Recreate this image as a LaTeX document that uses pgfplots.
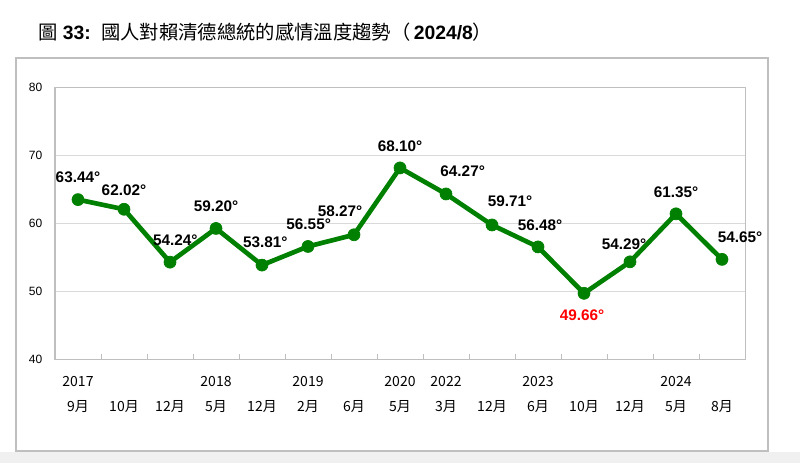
\documentclass[border=0pt]{standalone}
\usepackage{fontspec}
\setmainfont{Liberation Sans}
\newfontfamily\cjk{Noto Sans CJK TC}
\usepackage{pgfplots}
\pgfplotsset{compat=1.18}
\definecolor{lgreen}{RGB}{0,128,0}
\definecolor{lred}{RGB}{255,0,0}
\definecolor{gridc}{RGB}{217,217,217}
\definecolor{boxc}{RGB}{191,191,191}
\definecolor{pagebg}{RGB}{240,240,240}

% value label: x index, value, xshift, yshift, colour
\newcommand\lab[5]{\node[font=\bfseries\fontsize{11.5}{13}\selectfont, text=#5, inner sep=0pt]
  at (axis cs:#1,#2) [xshift=#3pt, yshift=#4pt] {#2°};}

\begin{document}
\begin{tikzpicture}
\useasboundingbox (0,0) rectangle (600pt,-347.25pt);
\fill[white] (0,0) rectangle (600pt,-347.25pt);
\fill[pagebg] (0,-339pt) rectangle (600pt,-347.25pt);
\draw[boxc, line width=0.9pt] (12pt,-43.5pt) rectangle (576pt,-338.25pt);
\node[anchor=west, inner sep=0pt, font=\fontsize{14.5}{16}\selectfont] at (28.5pt,-24pt)
  {{\cjk 圖} \textbf{33:}\, {\cjk 國人對賴清德總統的感情溫度趨勢（}\,\textbf{2024/8}{\cjk ）}};

\begin{axis}[
  at={(41.25pt,-269.25pt)}, anchor=south west,
  scale only axis, width=517.5pt, height=204pt,
  xmin=-0.5, xmax=14.5, ymin=40, ymax=80,
  ytick={40,50,...,80},
  xtick={0,...,14},
  xticklabels={{2017\\9月},{\phantom{2017}\\10月},{\phantom{2017}\\12月},{2018\\5月},
    {\phantom{2017}\\12月},{2019\\2月},{\phantom{2017}\\6月},{2020\\5月},{2022\\3月},
    {\phantom{2017}\\12月},{2023\\6月},{\phantom{2017}\\10月},{\phantom{2017}\\12月},
    {2024\\5月},{\phantom{2017}\\8月}},
  minor xtick={0.5,1.5,...,13.5},
  major tick length=0pt, minor tick length=4pt,
  tick align=inside, tick pos=left,
  tick style={boxc, line width=0.75pt},
  ymajorgrids, grid style={gridc, line width=0.6pt},
  axis line style={boxc, line width=0.75pt},
  xticklabel style={font=\cjk\fontsize{10.5}{18.75}\selectfont, align=center,
    anchor=north, inner sep=0pt, yshift=-13pt},
  yticklabel style={font=\fontsize{9}{10}\selectfont, xshift=-6pt},
  /pgf/number format/assume math mode=true,
  clip=false,
]
\addplot[lgreen, line width=3.5pt, mark=*, mark size=4.5pt,
  mark options={solid, fill=lgreen, draw=lgreen, line width=0.5pt}] coordinates {
  (0,63.44) (1,62.02) (2,54.24) (3,59.20) (4,53.81) (5,56.55) (6,58.27) (7,68.10)
  (8,64.27) (9,59.71) (10,56.48) (11,49.66) (12,54.29) (13,61.35) (14,54.65)
};
\lab{0}{63.44}{0}{16.5}{black}
\lab{1}{62.02}{0}{14.5}{black}
\lab{2}{54.24}{4}{16.5}{black}
\lab{3}{59.20}{0}{16.5}{black}
\lab{4}{53.81}{2.5}{17}{black}
\lab{5}{56.55}{0.5}{17}{black}
\lab{6}{58.27}{-10.5}{18}{black}
\lab{7}{68.10}{0}{16}{black}
\lab{8}{64.27}{12.5}{17}{black}
\lab{9}{59.71}{13.5}{17.5}{black}
\lab{10}{56.48}{1.5}{16}{black}
\lab{11}{49.66}{-1.5}{-16.5}{lred}
\lab{12}{54.29}{-4.5}{13.5}{black}
\lab{13}{61.35}{0}{16.5}{black}
\lab{14}{54.65}{13.5}{16.5}{black}
\end{axis}
\end{tikzpicture}
\end{document}
